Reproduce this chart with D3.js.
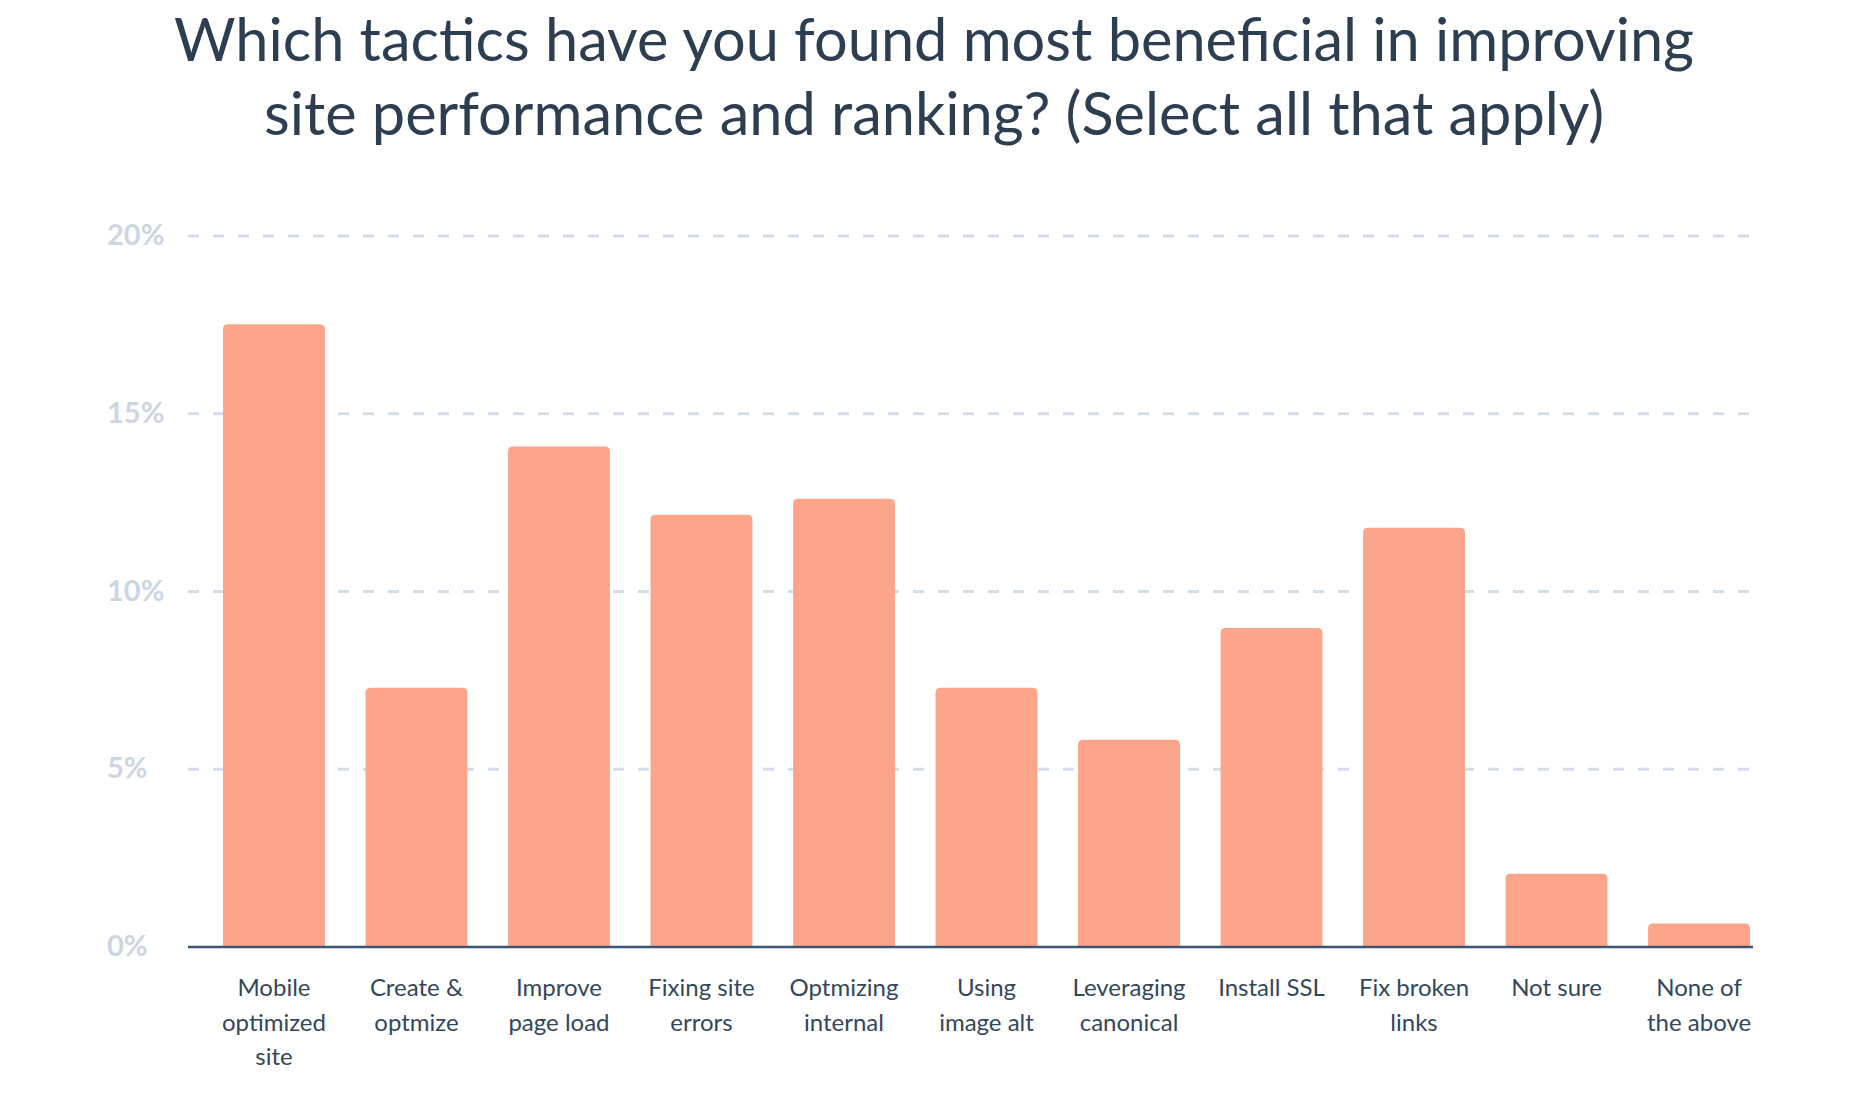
<!DOCTYPE html>
<html>
<head>
<meta charset="utf-8">
<script src="https://cdn.jsdelivr.net/npm/d3@7"></script>
<style>
  html, body { margin: 0; padding: 0; background: #fff; }
  svg { display: block; font-family: Lato, 'Open Sans', sans-serif; }
</style>
</head>
<body>
<script>
'use strict';

const titleLines = [
  'Which tactics have you found most beneficial in improving',
  'site performance and ranking? (Select all that apply)'
];

const categories = [
  ['Mobile', 'optimized', 'site'],
  ['Create &', 'optmize'],
  ['Improve', 'page load'],
  ['Fixing site', 'errors'],
  ['Optmizing', 'internal'],
  ['Using', 'image alt'],
  ['Leveraging', 'canonical'],
  ['Install SSL'],
  ['Fix broken', 'links'],
  ['Not sure'],
  ['None of', 'the above']
];

const values = [17.52, 7.29, 14.08, 12.16, 12.61, 7.29, 5.83, 8.97, 11.79, 2.06, 0.66];

const yTicks = [0, 5, 10, 15, 20];
const yTickLabels = ['0%', '5%', '10%', '15%', '20%'];

const width = 1856;
const height = 1101;

const gridLeft = 188;
const gridRight = 1753;
const labelX = 107;

const data = values.map((v, i) => ({key: i, lines: categories[i], value: v}));

const xScale = d3.scaleBand()
  .domain(d3.range(categories.length))
  .range([223, 1750])
  .paddingInner(0.285)
  .paddingOuter(0);

const yScale = d3.scaleLinear()
  .domain([0, 20])
  .range([947, 236]);

const svg = d3.select('body').append('svg')
  .attr('width', width)
  .attr('height', height);

// title
svg.append('g')
  .selectAll('text')
  .data(titleLines)
  .join('text')
  .attr('x', 934)
  .attr('y', (d, i) => 61 + i * 74)
  .attr('text-anchor', 'middle')
  .attr('font-size', 59.5)
  .attr('fill', '#2d3e50')
  .text(d => d);

// dashed gridlines
svg.append('g')
  .selectAll('line')
  .data(yTicks.filter(t => t > 0))
  .join('line')
  .attr('x1', gridLeft)
  .attr('x2', gridRight)
  .attr('y1', d => yScale(d))
  .attr('y2', d => yScale(d))
  .attr('stroke', '#d3dce7')
  .attr('stroke-width', 3)
  .attr('stroke-dasharray', '11,14');

// y tick labels
svg.append('g')
  .selectAll('text')
  .data(yTicks)
  .join('text')
  .attr('x', labelX)
  .attr('y', d => yScale(d) + 9)
  .attr('font-size', 29)
  .attr('font-weight', 700)
  .attr('fill', '#cbd6e2')
  .text((d, i) => yTickLabels[i]);

function barPath(x, y, w, h, r) {
  r = Math.min(r, h, w / 2);
  return 'M' + x + ',' + (y + h) +
    'V' + (y + r) +
    'Q' + x + ',' + y + ' ' + (x + r) + ',' + y +
    'H' + (x + w - r) +
    'Q' + (x + w) + ',' + y + ' ' + (x + w) + ',' + (y + r) +
    'V' + (y + h) + 'Z';
}

// bars
svg.append('g')
  .selectAll('path')
  .data(data)
  .join('path')
  .attr('fill', '#fca58b')
  .attr('d', d => barPath(
    xScale(d.key),
    yScale(d.value),
    xScale.bandwidth(),
    yScale(0) - yScale(d.value),
    5
  ));

// baseline
svg.append('line')
  .attr('x1', gridLeft)
  .attr('x2', gridRight)
  .attr('y1', yScale(0))
  .attr('y2', yScale(0))
  .attr('stroke', '#3e5571')
  .attr('stroke-width', 2.5);

// x axis with wrapped labels
const xAxis = svg.append('g')
  .attr('transform', 'translate(0,' + yScale(0) + ')')
  .call(d3.axisBottom(xScale).tickSize(0).tickFormat(''));

xAxis.select('.domain').remove();

xAxis.selectAll('.tick text')
  .attr('y', 0)
  .attr('dy', null)
  .attr('font-family', 'Lato, sans-serif')
  .attr('font-size', 24)
  .attr('fill', '#33475b')
  .each(function(d) {
    d3.select(this).selectAll('tspan')
      .data(categories[d])
      .join('tspan')
      .attr('x', 0)
      .attr('y', (line, i) => 49 + i * 34.5)
      .text(line => line);
  });
</script>
</body>
</html>
